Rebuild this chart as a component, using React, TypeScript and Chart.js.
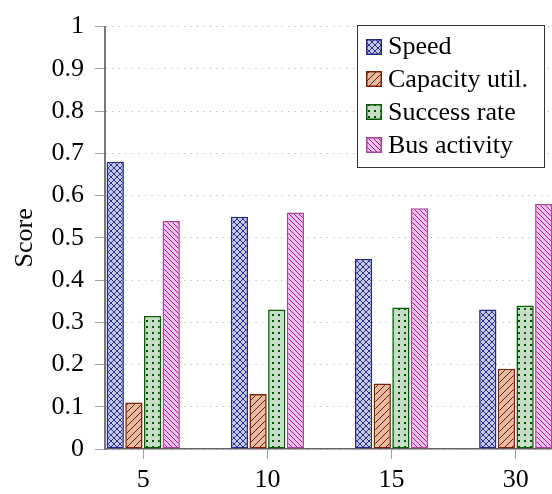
import React, { useEffect, useRef } from 'react';
import { Chart, registerables } from 'chart.js';

Chart.register(...registerables);

const categories = ['5', '10', '15', '30'];
const seriesNames = ['Speed', 'Capacity util.', 'Success rate', 'Bus activity'];
const speed = [0.68, 0.55, 0.45, 0.33];
const capacityUtil = [0.11, 0.13, 0.155, 0.19];
const successRate = [0.315, 0.33, 0.335, 0.34];
const busActivity = [0.54, 0.56, 0.57, 0.58];
const yTicks = [0, 0.1, 0.2, 0.3, 0.4, 0.5, 0.6, 0.7, 0.8, 0.9, 1];
const yTickLabels = ['0', '0.1', '0.2', '0.3', '0.4', '0.5', '0.6', '0.7', '0.8', '0.9', '1'];
const yTitle = 'Score';

const FONT = "'Liberation Serif', 'Times New Roman', serif";
const FS = 26;

type Kind = 'cross' | 'ne' | 'nw' | 'dots';

function makePattern(kind: Kind, bg: string, fg: string, size: number): CanvasPattern {
  const c = document.createElement('canvas');
  c.width = size;
  c.height = size;
  const g = c.getContext('2d')!;
  g.fillStyle = bg;
  g.fillRect(0, 0, size, size);
  g.strokeStyle = fg;
  g.fillStyle = fg;
  g.lineWidth = 1;
  if (kind === 'ne' || kind === 'cross') {
    g.beginPath();
    for (const k of [-size, 0, size]) {
      g.moveTo(k, size);
      g.lineTo(k + size, 0);
    }
    g.stroke();
  }
  if (kind === 'nw' || kind === 'cross') {
    g.beginPath();
    for (const k of [-size, 0, size]) {
      g.moveTo(k, 0);
      g.lineTo(k + size, size);
    }
    g.stroke();
  }
  if (kind === 'dots') {
    g.fillRect(Math.floor(size / 2) - 1, Math.floor(size / 2) - 1, 2, 2);
  }
  return g.createPattern(c, 'repeat')!;
}

const legendPlugin = {
  id: 'boxLegend',
  afterDraw(chart: any) {
    const ctx: CanvasRenderingContext2D = chart.ctx;
    const left = 357.5, top = 25.5, right = 544.5, bottom = 167.5;
    ctx.save();
    ctx.fillStyle = '#ffffff';
    ctx.fillRect(left, top, right - left, bottom - top);
    ctx.strokeStyle = '#333333';
    ctx.lineWidth = 1;
    ctx.strokeRect(left, top, right - left, bottom - top);
    ctx.font = `${FS}px ${FONT}`;
    ctx.textBaseline = 'middle';
    ctx.textAlign = 'left';
    chart.data.datasets.forEach((ds: any, i: number) => {
      const cy = top + 21 + i * 32.8;
      const sx = 366, sy = Math.round(cy - 8);
      ctx.fillStyle = ds.backgroundColor;
      ctx.fillRect(sx, sy, 16, 16);
      ctx.strokeStyle = ds.borderColor;
      ctx.lineWidth = 1.5;
      ctx.strokeRect(sx + 0.75, sy + 0.75, 14.5, 14.5);
      ctx.fillStyle = '#000000';
      ctx.fillText(ds.label, 388, cy + 1);
    });
    ctx.restore();
  },
};

export default function App() {
  const ref = useRef<HTMLCanvasElement | null>(null);

  useEffect(() => {
    const canvas = ref.current;
    if (!canvas) return;
    const styles = [
      { kind: 'cross' as Kind, bg: '#c6c9e5', fg: '#28318a', border: '#232b80', size: 6 },
      { kind: 'ne' as Kind, bg: '#e8bca0', fg: '#6e1605', border: '#7a200a', size: 7 },
      { kind: 'dots' as Kind, bg: '#c6ddc6', fg: '#06500a', border: '#0a5a0a', size: 6 },
      { kind: 'nw' as Kind, bg: '#edc3e7', fg: '#a8139f', border: '#aa4496', size: 5 },
    ];
    const seriesValues = [speed, capacityUtil, successRate, busActivity];
    const datasets = seriesValues.map((vals, s) => ({
      label: seriesNames[s],
      data: vals.map((v, i) => ({ x: i, y: v })),
      backgroundColor: makePattern(styles[s].kind, styles[s].bg, styles[s].fg, styles[s].size),
      borderColor: styles[s].border,
      borderWidth: 1.6,
      borderSkipped: false,
      categoryPercentage: 0.601,
      barPercentage: 0.927,
    }));

    const chart = new Chart(canvas, {
      type: 'bar',
      data: { datasets },
      options: {
        animation: false,
        responsive: false,
        devicePixelRatio: 1,
        layout: { padding: { left: 0, top: 17, right: 6, bottom: 0 } },
        plugins: {
          legend: { display: false },
          tooltip: { enabled: false },
        },
        scales: {
          x: {
            type: 'linear',
            min: -0.308,
            max: 3.308,
            offset: false,
            afterBuildTicks: (axis: any) => {
              axis.ticks = categories.map((_, i) => ({ value: i }));
            },
            afterFit: (axis: any) => {
              axis.height = 45;
            },
            grid: {
              offset: false,
              drawOnChartArea: false,
              drawTicks: true,
              tickLength: 10,
              tickColor: '#a0a0a0',
              tickWidth: 1,
            },
            border: { display: true, color: '#666666', width: 1.5 },
            ticks: {
              autoSkip: false,
              maxRotation: 0,
              padding: 6,
              color: '#000000',
              font: { family: FONT, size: FS },
              callback: (_v: any, index: number) => categories[index],
            },
          },
          y: {
            min: 0,
            max: 1,
            afterBuildTicks: (axis: any) => {
              axis.ticks = yTicks.map((v) => ({ value: v }));
            },
            afterFit: (axis: any) => {
              axis.width = 105;
            },
            grid: {
              color: '#b0b0b0',
              lineWidth: 1,
              drawTicks: true,
              tickLength: 10,
              tickColor: '#a0a0a0',
              tickBorderDash: [],
            },
            border: { display: true, color: '#7a7a7a', width: 2, dash: [1, 5.5] },
            ticks: {
              padding: 11,
              color: '#000000',
              font: { family: FONT, size: FS },
              callback: (_v: any, index: number) => yTickLabels[index],
            },
            title: {
              display: true,
              text: yTitle,
              color: '#000000',
              font: { family: FONT, size: FS },
              padding: { top: 10, bottom: 0 },
            },
          },
        },
      },
      plugins: [legendPlugin],
    } as any);

    return () => chart.destroy();
  }, []);

  return (
    <div
      style={{
        position: 'fixed',
        left: 0,
        top: 0,
        width: 552,
        height: 494,
        overflow: 'hidden',
        background: '#ffffff',
      }}
    >
      <canvas ref={ref} width={560} height={494} style={{ display: 'block', width: 560, height: 494 }} />
    </div>
  );
}
